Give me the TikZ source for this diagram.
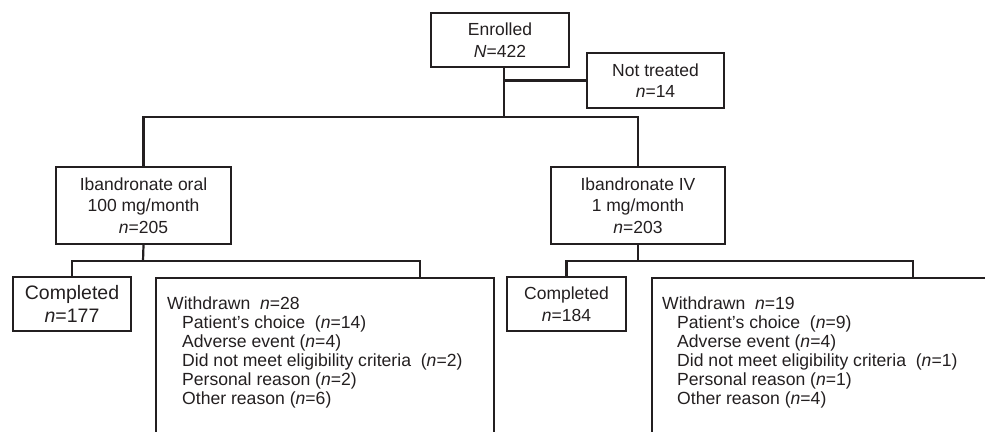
\documentclass[tikz,border=0pt]{standalone}
\usepackage{fontspec}
\setmainfont{Liberation Sans}
\usepackage{xcolor}
\usetikzlibrary{positioning}
\definecolor{inkgray}{HTML}{231F20}
\tikzset{
  flowbox/.style={draw=inkgray, line width=2.2pt, align=center, inner sep=0pt, text=inkgray, font=\fontsize{17.5}{21.5}\selectfont},
  bigbox/.style={flowbox, font=\fontsize{19.5}{23}\selectfont},
  openbox/.style={draw=inkgray, line width=2.2pt, inner sep=0pt, minimum height=200pt},
  listnode/.style={align=left, inner sep=0pt, text=inkgray, font=\fontsize{17.6}{19}\selectfont, anchor=north west},
  link/.style={draw=inkgray, line width=2.2pt}
}
\newcommand{\nn}{\textit{n}}

\begin{document}
\begin{tikzpicture}[x=1pt,y=-1pt]
  \clip (0,0) rectangle (985,431);
  % top level
  \node[flowbox, minimum width=138, minimum height=54] (enrolled) at (500,40) {Enrolled\\\textit{N}=422};
  \node[flowbox, minimum width=137, minimum height=55] (nottreated) at (655.5,80.5) {Not treated\\\nn=14};
  \coordinate (top) at ([xshift=4pt]enrolled.south);
  \coordinate (hub) at (504,117);
  \draw[link] (top) -- (hub);
  \draw[link] (top |- nottreated.west) -- (nottreated.west);
  % arms
  \node[flowbox, minimum width=175, minimum height=77] (oral) at (143.5,205.5) {Ibandronate oral\\100 mg/month\\\nn=205};
  \node[flowbox, minimum width=174, minimum height=77] (iv) at (638,205.5) {Ibandronate IV\\1 mg/month\\\nn=203};
  \draw[link] (oral.north) |- (hub) -| (iv.north);
  % outcomes, oral arm
  \coordinate (oralhub) at (143,261);
  \node[bigbox, minimum width=118, minimum height=54] (doneA) at (72,304) {Completed\\\nn=177};
  \node[openbox, minimum width=338, anchor=north west] (wdA) at (155,277) {};
  \coordinate (wdAtop) at (420,277);
  \draw[link] (oral.south) -- (oralhub);
  \draw[link] (doneA.north) |- (oralhub) -| (wdAtop);
  \node[listnode] (listA) at (167,297) {Withdrawn\ \ \nn=28\\
    \hspace*{15pt}Patient's choice\ \ (\nn=14)\\
    \hspace*{15pt}Adverse event (\nn=4)\\
    \hspace*{15pt}Did not meet eligibility criteria\ \ (\nn=2)\\
    \hspace*{15pt}Personal reason (\nn=2)\\
    \hspace*{15pt}Other reason (\nn=6)};
  % outcomes, IV arm
  \coordinate (ivhub) at (638,261);
  \node[flowbox, minimum width=119, minimum height=54] (doneB) at (566.5,304) {Completed\\\nn=184};
  \node[openbox, minimum width=360, anchor=north west] (wdB) at (651,277) {};
  \coordinate (wdBtop) at (913,277);
  \draw[link] (iv.south) -- (ivhub);
  \draw[link] (doneB.north) |- (ivhub) -| (wdBtop);
  \node[listnode] (listB) at (662,297) {Withdrawn\ \ \nn=19\\
    \hspace*{15pt}Patient's choice\ \ (\nn=9)\\
    \hspace*{15pt}Adverse event (\nn=4)\\
    \hspace*{15pt}Did not meet eligibility criteria\ \ (\nn=1)\\
    \hspace*{15pt}Personal reason (\nn=1)\\
    \hspace*{15pt}Other reason (\nn=4)};
\end{tikzpicture}
\end{document}
